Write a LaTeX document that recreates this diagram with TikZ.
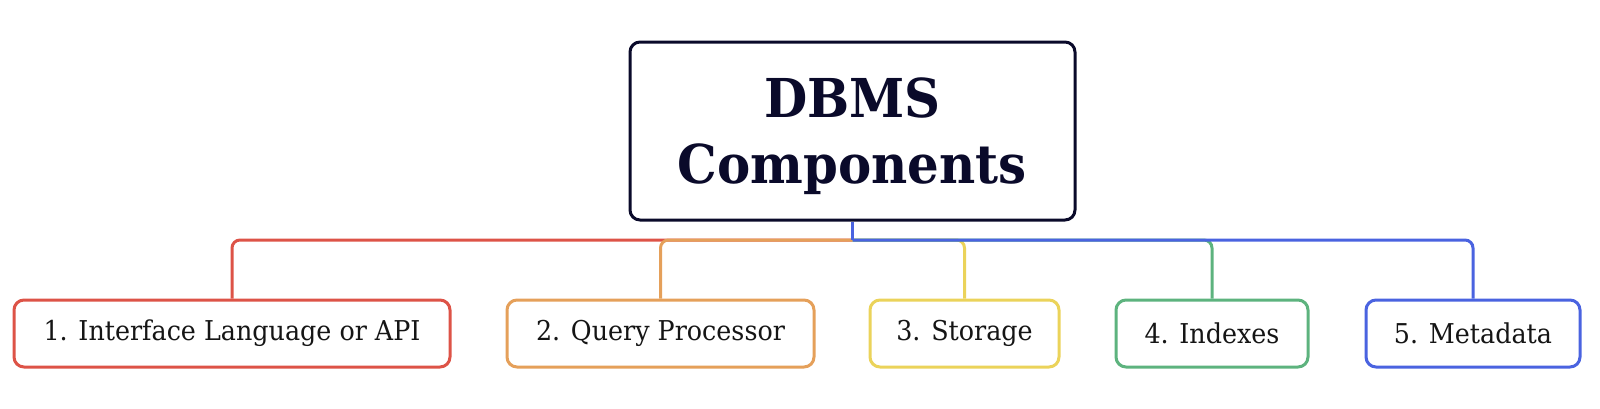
\documentclass[tikz,border=0pt]{standalone}
\usepackage{fontspec}
\setmainfont{DejaVu Serif}[FakeStretch=0.93]
\definecolor{cred}{HTML}{DD5347}
\definecolor{corange}{HTML}{E5A05A}
\definecolor{cyellow}{HTML}{EBD35A}
\definecolor{cgreen}{HTML}{5DB37E}
\definecolor{cblue}{HTML}{4A63E0}
\definecolor{cnavy}{HTML}{0A0A2A}
\definecolor{ctext}{HTML}{151515}
\tikzset{
  mainbox/.style={draw=cnavy, line width=3pt, rounded corners=10pt, fill=white,
    minimum width=445pt, minimum height=178pt, align=center, text=cnavy,
    font=\fontsize{53.6}{66}\selectfont\bfseries, inner sep=0pt},
  childbox/.style={draw=#1, line width=3pt, rounded corners=10pt, fill=white,
    minimum height=67pt, text=ctext, font=\fontsize{27.3}{32}\selectfont, inner sep=0pt},
  conn/.style={draw=#1, line width=3pt, rounded corners=8pt},
}
\begin{document}
\begin{tikzpicture}[x=1pt,y=-1pt]
\useasboundingbox (0,0) rectangle (1600,408);
\node[mainbox] (root) at (852.5,131) {\raisebox{-13pt}[0pt][0pt]{\begin{tabular}{@{}c@{}}DBMS\\Components\end{tabular}}};
\node[childbox=cred, minimum width=436pt] (c1) at (232,333.5) {1. Interface Language or API};
\node[childbox=corange, minimum width=307pt] (c2) at (660.5,333.5) {2. Query Processor};
\node[childbox=cyellow, minimum width=189pt] (c3) at (964.5,333.5) {3. Storage};
\node[childbox=cgreen, minimum width=192pt] (c4) at (1212,333.5) {4. Indexes};
\node[childbox=cblue, minimum width=214pt] (c5) at (1473,333.5) {5. Metadata};
\coordinate (bus) at (852.5,240);
\draw[conn=cred] (bus) -| (c1.north);
\draw[conn=corange] (bus) -| (c2.north);
\draw[conn=cyellow] (bus) -| (c3.north);
\draw[conn=cgreen] (bus) -| (c4.north);
\draw[conn=cblue] (bus) -| (c5.north);
\draw[draw=cblue, line width=3pt] (root.south) -- (bus);
\end{tikzpicture}
\end{document}
